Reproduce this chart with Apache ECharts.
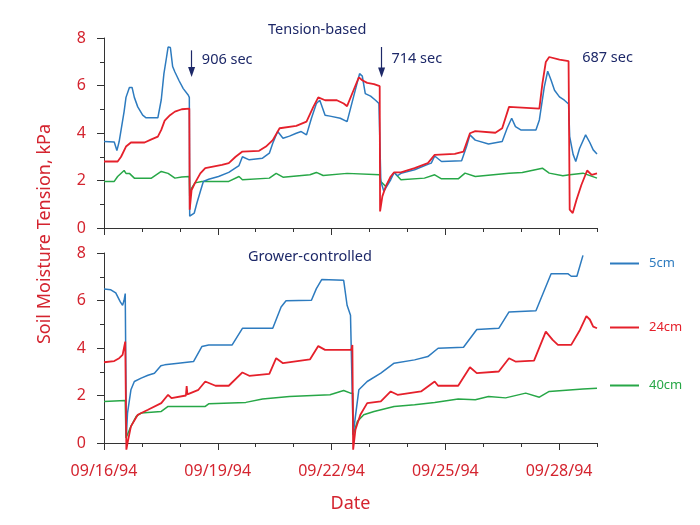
<!DOCTYPE html>
<html><head><meta charset="utf-8">
<script src="https://cdn.jsdelivr.net/npm/echarts@6/dist/echarts.min.js"></script>
<style>html,body{margin:0;padding:0;background:#fff}#c{width:700px;height:525px}</style>
</head><body><div id="c"></div>
<script>
// x values are days since 09/16/94
const tickLabels = ['09/16/94','09/19/94','09/22/94','09/25/94','09/28/94'];
const majorTicks = [0,3,6,9,12];
const legendNames = ['5cm','24cm','40cm'];

// Tension-based panel
const tb5_t = [0,0.27,0.3,0.34,0.40,0.53,0.58,0.67,0.74,0.80,0.89,1.02,1.11,1.42,1.51,1.58,1.65,1.69,1.75,1.81,1.87,1.98,2.09,2.22,2.25,2.26,2.31,2.38,2.45,2.54,2.62,2.76,3.02,3.29,3.56,3.65,3.83,4.18,4.36,4.45,4.58,4.72,4.89,5.07,5.20,5.34,5.47,5.60,5.69,5.83,5.96,6.23,6.41,6.58,6.74,6.81,6.89,7.03,7.16,7.25,7.27,7.30,7.38,7.43,7.56,7.65,7.74,7.83,8.19,8.54,8.63,8.72,8.90,9.43,9.56,9.65,9.79,10.14,10.50,10.63,10.75,10.85,10.99,11.39,11.48,11.61,11.70,11.79,11.88,12.01,12.14,12.25,12.28,12.37,12.44,12.54,12.70,12.81,12.90,13.0];
const tb5_v = [3.64,3.62,3.6,3.26,3.64,4.9,5.5,5.92,5.92,5.5,5.1,4.75,4.64,4.64,5.4,6.5,7.2,7.62,7.6,6.8,6.57,6.2,5.87,5.6,5.5,0.5,0.42,0.63,1.05,1.54,1.96,2.05,2.17,2.34,2.63,3.0,2.87,2.94,3.15,3.57,4.06,3.78,3.87,3.99,4.06,3.92,4.62,5.24,5.38,4.75,4.71,4.62,4.48,5.52,6.5,6.4,5.66,5.55,5.38,5.24,5.22,1.96,1.55,1.47,2.03,2.34,2.2,2.3,2.45,2.68,2.73,3.03,2.8,2.83,3.43,3.92,3.7,3.54,3.64,4.2,4.62,4.27,4.13,4.13,4.55,5.94,6.6,6.22,5.8,5.52,5.38,5.22,3.85,3.1,2.8,3.35,3.92,3.6,3.29,3.12];

const tb24_t = [0,0.36,0.45,0.58,0.71,1.07,1.25,1.42,1.51,1.60,1.74,1.87,2.05,2.25,2.26,2.31,2.40,2.54,2.67,3.11,3.29,3.47,3.65,4.09,4.27,4.45,4.63,5.07,5.34,5.52,5.65,5.83,6.14,6.32,6.41,6.58,6.72,6.81,6.94,7.12,7.27,7.28,7.34,7.43,7.56,7.65,7.83,8.19,8.54,8.72,9.25,9.48,9.65,9.79,10.32,10.50,10.68,11.48,11.56,11.65,11.74,12.01,12.25,12.28,12.36,12.46,12.59,12.74,12.86,13.0];
const tb24_v = [2.8,2.8,3.0,3.43,3.6,3.6,3.73,3.85,4.13,4.52,4.75,4.9,5.0,5.03,0.77,1.6,1.9,2.3,2.52,2.66,2.73,3.0,3.22,3.25,3.43,3.7,4.2,4.3,4.48,5.1,5.5,5.38,5.38,5.24,5.13,5.8,6.34,6.22,6.11,6.06,5.97,0.7,1.33,1.75,2.17,2.34,2.34,2.52,2.73,3.08,3.12,3.22,3.99,4.08,4.01,4.2,5.1,5.03,6.08,6.99,7.2,7.09,7.03,0.77,0.63,1.19,1.82,2.42,2.24,2.3];

const tb40_t = [0,0.27,0.36,0.53,0.58,0.67,0.80,1.25,1.51,1.69,1.87,2.05,2.25,2.26,2.31,2.40,2.58,3.29,3.56,3.65,4.36,4.54,4.72,5.43,5.60,5.78,6.41,7.27,7.30,7.43,7.65,7.83,8.45,8.72,8.90,9.34,9.52,9.79,10.68,11.03,11.56,11.74,12.10,12.28,12.63,13.0];
const tb40_v = [1.96,1.96,2.17,2.42,2.3,2.3,2.1,2.1,2.38,2.3,2.1,2.15,2.17,1.33,1.68,1.9,1.96,1.96,2.17,2.03,2.1,2.3,2.14,2.24,2.34,2.21,2.3,2.24,1.96,1.75,2.34,2.03,2.1,2.24,2.07,2.07,2.31,2.17,2.31,2.34,2.52,2.31,2.2,2.24,2.31,2.1];

// Grower-controlled panel
const gc5_t = [0,0.18,0.31,0.43,0.49,0.53,0.56,0.59,0.62,0.71,0.80,0.98,1.16,1.33,1.50,1.60,1.96,2.36,2.58,2.76,3.38,3.65,4.45,4.67,4.80,5.47,5.60,5.74,6.32,6.41,6.50,6.55,6.57,6.63,6.72,6.94,7.30,7.65,8.19,8.54,8.81,9.48,9.83,10.41,10.68,11.39,11.79,12.23,12.32,12.47,12.63];
const gc5_v = [6.48,6.45,6.32,5.94,5.8,6.01,6.29,0.3,1.26,2.24,2.59,2.73,2.85,2.94,3.25,3.29,3.36,3.43,4.06,4.13,4.13,4.83,4.83,5.73,5.99,6.01,6.5,6.88,6.85,5.8,5.38,5.3,0.35,1.12,2.24,2.59,2.94,3.36,3.5,3.64,3.99,4.03,4.78,4.83,5.52,5.57,7.13,7.13,7.02,7.02,7.9];

const gc24_t = [0,0.27,0.40,0.49,0.56,0.58,0.59,0.62,0.71,0.89,1.16,1.51,1.69,1.78,2.16,2.18,2.2,2.49,2.67,2.94,3.29,3.65,3.83,4.36,4.54,4.72,5.43,5.65,5.83,6.41,6.52,6.55,6.57,6.63,6.76,6.94,7.30,7.56,7.74,8.36,8.72,8.81,9.34,9.65,9.83,10.41,10.68,10.85,11.34,11.65,11.83,11.97,12.32,12.55,12.72,12.81,12.90,13.0];
const gc24_v = [3.4,3.45,3.57,3.71,4.27,4.3,-0.28,0.0,0.7,1.19,1.4,1.68,2.03,1.89,2.0,2.4,2.05,2.24,2.59,2.41,2.41,2.97,2.83,2.91,3.57,3.36,3.52,4.08,3.92,3.92,3.92,4.13,-0.28,0.56,1.19,1.68,1.75,2.17,2.03,2.17,2.59,2.41,2.41,3.19,2.94,3.01,3.57,3.43,3.47,4.69,4.34,4.13,4.13,4.76,5.34,5.2,4.9,4.83];

const gc40_t = [0,0.56,0.58,0.71,0.85,0.98,1.51,1.69,2.67,2.76,3.74,4.18,4.89,5.96,6.32,6.50,6.56,6.57,6.68,6.85,7.12,7.65,8.19,8.72,9.34,9.79,10.14,10.59,11.12,11.48,11.74,12.63,13.0];
const gc40_v = [1.75,1.79,0.21,0.7,1.12,1.26,1.33,1.54,1.54,1.65,1.71,1.85,1.96,2.03,2.21,2.1,2.1,0.35,0.91,1.19,1.33,1.54,1.61,1.71,1.85,1.82,1.96,1.9,2.1,1.93,2.17,2.27,2.31];

// Annotations (tension-based panel)
const arrowDay = [2.31, 7.32, 12.25];
const arrowTop = [7.48, 7.62, 8.18];
const arrowTip = [6.57, 6.55, 7.13];
const noteDay = [2.58, 7.58, 12.61];
const noteVal = [7.09, 7.13, 7.16];
const noteText = ['906 sec','714 sec','687 sec'];

const BLUE='#2d7bbf', RED='#e5202b', GREEN='#27a747', NAVY='#1d2868', LRED='#d4242f';
const FONT='"Noto Sans"';
const zip=(t,v)=>t.map((x,i)=>[x,v[i]]);

function lineSeries(name,t,v,color,w,xi,yi){
  return {name, type:'line', xAxisIndex:xi, yAxisIndex:yi, data:zip(t,v), showSymbol:false, symbol:'none',
    clip:false, lineStyle:{color, width:w}, itemStyle:{color}, animation:false};
}

const xMinor = gi => ({gridIndex:gi, type:'value', position:'bottom', min:0, max:13, interval:1,
  axisLine:{onZero:false, lineStyle:{color:'#333'}}, axisTick:{length:4, lineStyle:{color:'#333'}},
  axisLabel:{show:false}, splitLine:{show:false}});
const xMajor = (gi,labels) => ({gridIndex:gi, type:'value', position:'bottom', min:0, max:13,
  axisLine:{show:false, onZero:false}, axisTick:{length:7, customValues:majorTicks, lineStyle:{color:'#333'}},
  axisLabel:{show:labels, customValues:majorTicks, margin:20, color:LRED, fontSize:16, fontFamily:FONT,
    formatter:v=>tickLabels[Math.round(v/3)]},
  splitLine:{show:false},
  name: labels?'Date':'', nameLocation:'middle', nameGap:52,
  nameTextStyle:{color:LRED, fontSize:18, fontFamily:FONT}});
const yAx = gi => ({gridIndex:gi, type:'value', min:0, max:8, interval:2,
  axisLine:{show:true, lineStyle:{color:'#333'}}, axisTick:{show:true, length:7, lineStyle:{color:'#333'}},
  minorTick:{show:true, splitNumber:2, length:4, lineStyle:{color:'#333'}},
  axisLabel:{color:LRED, fontSize:16, fontFamily:FONT, margin:18}, splitLine:{show:false}});

const legendColors=[BLUE,RED,GREEN];
const legendTops=[257,321,379];

const option = {
  animation:false,
  textStyle:{fontFamily:FONT},
  title:[
    {text:'Tension-based', left:268, top:22, padding:0, textStyle:{color:NAVY, fontSize:14.5, fontWeight:'normal', fontFamily:FONT}},
    {text:'Grower-controlled', left:248, top:249, padding:0, textStyle:{color:NAVY, fontSize:14.5, fontWeight:'normal', fontFamily:FONT}}
  ],
  grid:[
    {left:104, top:38, width:493, height:190},
    {left:104, top:253, width:493, height:190}
  ],
  xAxis:[xMinor(0), xMajor(0,false), xMinor(1), xMajor(1,true)],
  yAxis:[yAx(0), yAx(1)],
  legend: legendNames.map((n,i)=>({data:[n], left:610, top:legendTops[i], icon:'rect', itemWidth:29, itemHeight:2,
    selectedMode:false, padding:0, textStyle:{color:legendColors[i], fontSize:13, fontFamily:FONT, padding:[0,0,0,5]}})),
  graphic:[{type:'text', x:45, y:234, rotation:Math.PI/2,
    style:{text:'Soil Moisture Tension, kPa', fill:LRED, font:'18px "Noto Sans"', align:'center', verticalAlign:'middle', textAlign:'center', textVerticalAlign:'middle'}}],
  series:[
    lineSeries('40cm',tb40_t,tb40_v,GREEN,1.5,0,0),
    lineSeries('5cm',tb5_t,tb5_v,BLUE,1.5,0,0),
    lineSeries('24cm',tb24_t,tb24_v,RED,1.8,0,0),
    lineSeries('40cm',gc40_t,gc40_v,GREEN,1.5,2,1),
    lineSeries('5cm',gc5_t,gc5_v,BLUE,1.5,2,1),
    lineSeries('24cm',gc24_t,gc24_v,RED,1.8,2,1),
    {name:'annot', type:'line', xAxisIndex:0, yAxisIndex:0, data:[], clip:false, animation:false,
      markLine:{silent:true, symbol:['none','triangle'], symbolSize:[7,10], animation:false,
        lineStyle:{color:NAVY, width:1.2, type:'solid'}, label:{show:false},
        data: arrowDay.map((d,i)=>[{coord:[d,arrowTop[i]]},{coord:[d,arrowTip[i]]}])},
      markPoint:{symbol:'circle', symbolSize:0, animation:false,
        label:{show:true, position:'right', distance:0, color:NAVY, fontSize:14.5, fontFamily:FONT, formatter:'{b}'},
        data: noteDay.map((d,i)=>({name:noteText[i], coord:[d,noteVal[i]]}))}}
  ]
};
const chart = echarts.init(document.getElementById('c'), null, {renderer:'canvas'});
chart.setOption(option);
</script></body></html>
